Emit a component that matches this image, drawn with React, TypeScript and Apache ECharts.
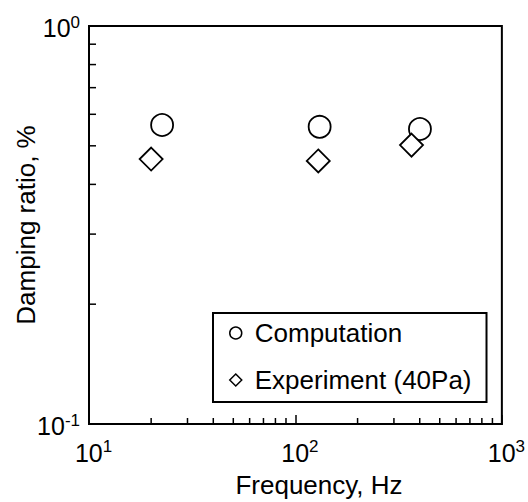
import React, { useEffect, useRef } from "react";
import * as echarts from "echarts";

const FONT = "'Liberation Sans', Arial, Helvetica, sans-serif";

// Data
const seriesNames = ["Computation", "Experiment (40Pa)"];
const computationFreq = [22.6, 131, 401];
const computationDamping = [0.564, 0.558, 0.551];
const experimentFreq = [20.0, 129, 365];
const experimentDamping = [0.463, 0.458, 0.502];

// Axes
const xRange = [10, 1000];
const yRange = [0.1, 1];
const xMinorTicks = [20, 30, 40, 50, 60, 70, 80, 90, 200, 300, 400, 500, 600, 700, 800, 900];
const yMinorTicks = [0.2, 0.3, 0.4, 0.5, 0.6, 0.7, 0.8, 0.9];
const xTitle = "Frequency, Hz";
const yTitle = "Damping ratio, %";

function expLabel(v: number) {
  const e = Math.round(Math.log10(v));
  return `{b|10}{s|${e}}`;
}

export default function App() {
  const ref = useRef<HTMLDivElement>(null);

  useEffect(() => {
    if (!ref.current) return;
    const chart = echarts.init(ref.current, null, { renderer: "svg" });

    const tickLine = (dx: number, dy: number) => (params: any, api: any) => {
      const p = api.coord([api.value(0), api.value(1)]);
      return {
        type: "line",
        shape: { x1: p[0], y1: p[1], x2: p[0] + dx, y2: p[1] + dy },
        style: { stroke: "#000", lineWidth: 1.5 },
      };
    };

    const option: any = {
      animation: false,
      backgroundColor: "#fff",
      grid: {
        left: 89,
        top: 26,
        right: 26,
        bottom: 78,
        show: true,
        borderColor: "#000",
        borderWidth: 2,
        backgroundColor: "transparent",
      },
      xAxis: {
        type: "log",
        logBase: 10,
        min: xRange[0],
        max: xRange[1],
        axisLine: { lineStyle: { color: "#000", width: 2 } },
        axisTick: { inside: true, length: 9, lineStyle: { color: "#000", width: 1.5 } },
        splitLine: { show: false },
        axisLabel: {
          margin: 14,
          color: "#000",
          fontFamily: FONT,
          formatter: expLabel,
          rich: {
            b: { fontSize: 25, fontFamily: FONT, color: "#000", padding: [4, 0, 0, 9], lineHeight: 25 },
            s: { fontSize: 17, fontFamily: FONT, color: "#000", verticalAlign: "top", lineHeight: 17 },
          },
        },
      },
      yAxis: {
        type: "log",
        logBase: 10,
        min: yRange[0],
        max: yRange[1],
        axisLine: { lineStyle: { color: "#000", width: 2 } },
        axisTick: { inside: true, length: 8, lineStyle: { color: "#000", width: 1.5 } },
        splitLine: { show: false },
        axisLabel: {
          margin: 9,
          color: "#000",
          fontFamily: FONT,
          formatter: expLabel,
          rich: {
            b: { fontSize: 25, fontFamily: FONT, color: "#000", padding: [4, 0, 0, 0], lineHeight: 25 },
            s: { fontSize: 17, fontFamily: FONT, color: "#000", verticalAlign: "top", lineHeight: 17 },
          },
        },
      },
      legend: {
        data: seriesNames,
        orient: "vertical",
        left: 213,
        top: 313,
        padding: [7, 15, 9, 16],
        itemGap: 21,
        itemWidth: 12,
        itemHeight: 12,
        borderColor: "#000",
        borderWidth: 2,
        borderRadius: 0,
        backgroundColor: "#fff",
        selectedMode: false,
        itemStyle: { color: "#fff", borderColor: "#000", borderWidth: 1.5 },
        textStyle: { fontSize: 26, fontFamily: FONT, color: "#000", padding: [0, 0, 0, 8] },
      },
      graphic: [
        {
          type: "text",
          x: 319,
          y: 485,
          style: { text: xTitle, fontSize: 26, fontFamily: FONT, fill: "#000", align: "center", verticalAlign: "middle" },
        },
        {
          type: "text",
          x: 26,
          y: 225,
          rotation: Math.PI / 2,
          style: { text: yTitle, fontSize: 26, fontFamily: FONT, fill: "#000", align: "center", verticalAlign: "middle" },
        },
      ],
      series: [
        {
          type: "custom",
          name: "xMinor",
          silent: true,
          renderItem: tickLine(0, -6),
          data: xMinorTicks.map((v) => [v, yRange[0]]),
          z: 5,
        },
        {
          type: "custom",
          name: "yMinor",
          silent: true,
          renderItem: tickLine(7, 0),
          data: yMinorTicks.map((v) => [xRange[0], v]),
          z: 5,
        },
        {
          type: "scatter",
          name: seriesNames[0],
          symbol: "circle",
          symbolSize: 22,
          itemStyle: { color: "#fff", borderColor: "#000", borderWidth: 1.8, opacity: 1 },
          data: computationFreq.map((f, i) => [f, computationDamping[i]]),
          z: 3,
        },
        {
          type: "scatter",
          name: seriesNames[1],
          symbol: "diamond",
          symbolSize: [23, 23],
          itemStyle: { color: "#fff", borderColor: "#000", borderWidth: 1.8, opacity: 1 },
          data: experimentFreq.map((f, i) => [f, experimentDamping[i]]),
          z: 4,
        },
      ],
    };

    chart.setOption(option);
    return () => chart.dispose();
  }, []);

  return (
    <div
      ref={ref}
      style={{ position: "fixed", left: 0, top: 0, width: 528, height: 502, background: "#fff" }}
    />
  );
}
